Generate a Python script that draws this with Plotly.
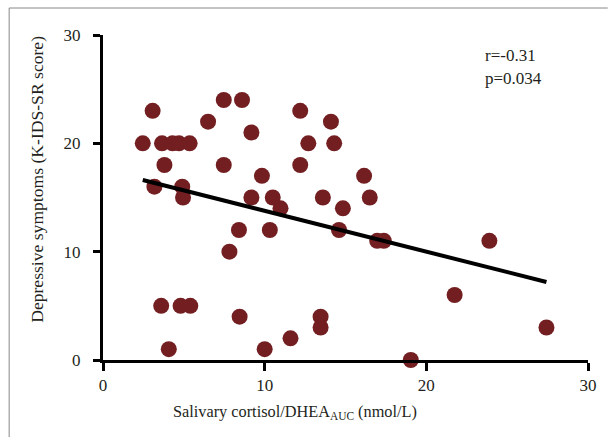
import numpy as np
import plotly.graph_objects as go

# Data
ratio = [2.46, 3.07, 3.18, 3.65, 3.8, 3.6, 4.07, 4.3, 4.7, 4.9, 4.95, 4.8, 5.36, 5.4,
         6.5, 7.47, 7.47, 7.82, 8.6, 8.41, 8.45, 9.18, 9.18, 9.83, 10.0, 10.32, 10.5,
         10.98, 11.6, 12.2, 12.2, 12.7, 14.1, 14.3, 13.6, 13.46, 13.46, 14.6, 14.84,
         16.15, 16.5, 16.96, 17.37, 19.04, 21.75, 23.9, 27.43]
score = [20, 23, 16, 20, 18, 5, 1, 20, 20, 16, 15, 5, 20, 5,
         22, 24, 18, 10, 24, 12, 4, 21, 15, 17, 1, 12, 15,
         14, 2, 23, 18, 20, 22, 20, 15, 4, 3, 12, 14,
         17, 15, 11, 11, 0, 6, 11, 3]
x_ticks = [0, 10, 20, 30]
y_ticks = [0, 10, 20, 30]
stats_text = ["r=-0.31", "p=0.034"]

x = np.array(ratio)
y = np.array(score)
slope, intercept = np.polyfit(x, y, 1)
fit_x = np.array([x.min(), x.max()])
fit_y = slope * fit_x + intercept

FONT = "Liberation Serif"
TXT = "#231f20"

fig = go.Figure()
fig.add_trace(go.Scatter(x=ratio, y=score, mode="markers",
                         marker=dict(size=16, color="#731f22", line=dict(width=0)),
                         showlegend=False, cliponaxis=False))
fig.add_trace(go.Scatter(x=fit_x, y=fit_y, mode="lines",
                         line=dict(color="black", width=4), showlegend=False))

W, H = 609, 437
L, R, T, B = 103, 15, 35, 77
pw, ph = W - L - R, H - T - B

fig.update_layout(
    width=W, height=H, margin=dict(l=L, r=R, t=T, b=B),
    paper_bgcolor="white", plot_bgcolor="white",
    font=dict(family=FONT, size=17, color=TXT),
    xaxis=dict(range=[0, 30], tickvals=x_ticks, showgrid=False, zeroline=False,
               showline=True, linecolor="black", linewidth=3,
               ticks="outside", ticklen=8, tickwidth=3, tickcolor="black",
               tickfont=dict(size=17, family=FONT, color=TXT)),
    yaxis=dict(range=[0, 30], tickvals=y_ticks, showgrid=False, zeroline=False,
               showline=True, linecolor="black", linewidth=3,
               ticks="outside", ticklen=7, tickwidth=3, tickcolor="black",
               ticklabelstandoff=9,
               tickfont=dict(size=17, family=FONT, color=TXT)),
)

def px(xp):
    return (xp - L) / pw

def py(yp):
    return (H - B - yp) / ph

# frame lines (left and top)
fig.add_shape(type="line", xref="paper", yref="paper",
              x0=px(8), x1=px(8), y0=py(8), y1=py(H + 5),
              line=dict(color="#888888", width=1))
fig.add_shape(type="line", xref="paper", yref="paper",
              x0=px(8), x1=px(W + 5), y0=py(8), y1=py(8),
              line=dict(color="#888888", width=1))

fig.add_annotation(xref="paper", yref="paper", x=px(297), y=py(412),
                   text="Salivary cortisol/DHEA<sub>AUC</sub> (nmol/L)",
                   showarrow=False, font=dict(size=16.3, family=FONT, color=TXT),
                   xanchor="center", yanchor="middle")
fig.add_annotation(xref="paper", yref="paper", x=px(36), y=py(179),
                   text="Depressive symptoms (K-IDS-SR score)", textangle=-90,
                   showarrow=False, font=dict(size=17.6, family=FONT, color=TXT),
                   xanchor="center", yanchor="middle")
for i, t in enumerate(stats_text):
    fig.add_annotation(xref="paper", yref="paper", x=px(488), y=py(55 + 23 * i),
                       text=t, showarrow=False,
                       font=dict(size=17, family=FONT, color=TXT),
                       xanchor="left", yanchor="middle")

fig.write_html("out.html")
